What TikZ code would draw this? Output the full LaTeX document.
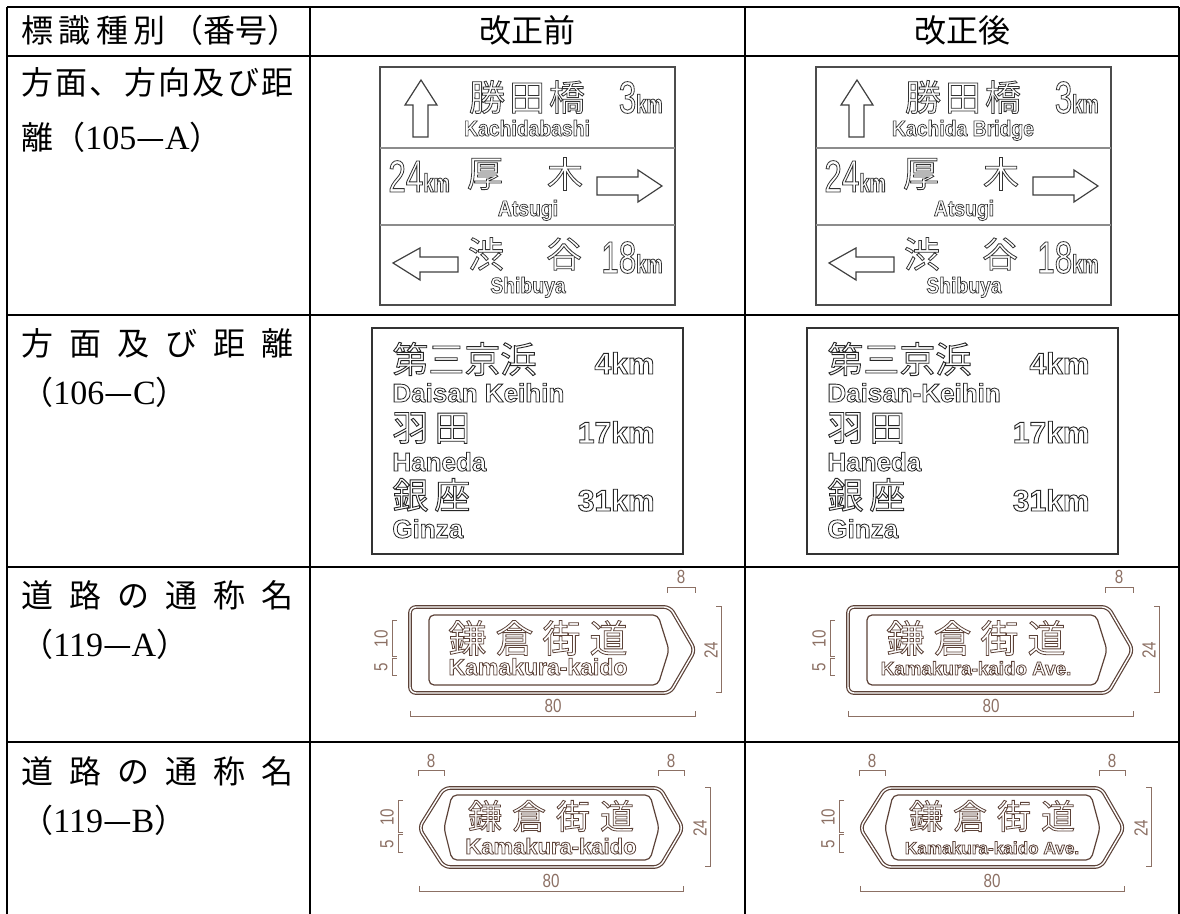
\documentclass[tikz,border=0pt]{standalone}
\usepackage{fontspec}
\setmainfont{Liberation Serif}
\newfontfamily\jp{Noto Sans CJK JP}
\newfontfamily\romfont{Liberation Sans}
\newfontfamily\romnar[FakeStretch=0.88]{Liberation Sans}
\newfontfamily\numfont[FakeStretch=0.7]{Liberation Sans}
\newfontfamily\dimfont[FakeStretch=0.8]{Liberation Sans}

\definecolor{roadbrown}{RGB}{92,66,56}
\definecolor{dimbrown}{RGB}{140,112,100}

\newcommand\hollow[2][0.4]{\special{pdf:literal direct 1 Tr #1 w}#2\special{pdf:literal direct 0 Tr}}
\newcommand\latn[1]{{\rmfamily\fontsize{17pt}{17pt}\selectfont #1}}
\newcommand\smallkm{{\bfseries\fontsize{13pt}{13pt}\selectfont km}}

\newcommand\dirsign[3]{%
    \begin{scope}[shift={#2}]
        \draw[signframe] (0,0) rectangle (295,238);
        \draw[signrule] (0,81) -- (295,81);
        \draw[signrule] (0,158) -- (295,158);
        \draw[arrowline] (41,13) -- (57,38) -- (48,38) -- (48,70) -- (33,70) -- (33,38) -- (25,38) -- cycle;
        \draw[arrowline] (282,119) -- (258,135) -- (258,128) -- (217,128) -- (217,110) -- (258,110) -- (258,103) -- cycle;
        \draw[arrowline] (13,196) -- (40,181) -- (40,190) -- (78,190) -- (78,205) -- (40,205) -- (40,213) -- cycle;
        \node[kanji] (#1-kachi) at (147,30) {\hollow{勝\kern2pt 田\kern2pt 橋}};
        \node[numtxt, anchor=base east] (#1-d3) at (283,46) {\hollow{3\smallkm}};
        \node[roma] (#1-kachien) at (147,69) {\hollow[0.35]{#3}};
        \node[numtxt, anchor=base west] (#1-d24) at (8,125) {\hollow{24\smallkm}};
        \node[kanji] (#1-atsu) at (105,107) {\hollow{厚}};
        \node[kanji] (#1-gi) at (185,107) {\hollow{木}};
        \node[roma] (#1-atsuen) at (148,149) {\hollow[0.35]{Atsugi}};
        \node[kanji] (#1-shibu) at (106,187) {\hollow{渋}};
        \node[kanji] (#1-ya) at (184,187) {\hollow{谷}};
        \node[numtxt, anchor=base east] (#1-d18) at (283,206) {\hollow{18\smallkm}};
        \node[roma] (#1-shibuen) at (148,226) {\hollow[0.35]{Shibuya}};
    \end{scope}}

\newcommand\distsign[3]{%
    \begin{scope}[shift={#2}]
        \draw[signframe2] (0,0) rectangle (311,226);
        \node[kanji2] (#1-k1) at (20,31) {\hollow[0.45]{第三京浜}};
        \node[roma2] (#1-e1) at (20,74) {\hollow{#3}};
        \node[kanji2] (#1-k2) at (20,100) {\hollow[0.45]{羽\kern3pt 田}};
        \node[roma2] (#1-e2) at (20,143) {\hollow{Haneda}};
        \node[kanji2] (#1-k3) at (20,167) {\hollow[0.45]{銀\kern3pt 座}};
        \node[roma2] (#1-e3) at (20,210) {\hollow{Ginza}};
        \node[kmtxt] (#1-m1) at (283,46) {\hollow[0.45]{4km}};
        \node[kmtxt] (#1-m2) at (283,115) {\hollow[0.45]{17km}};
        \node[kmtxt] (#1-m3) at (283,183) {\hollow[0.45]{31km}};
    \end{scope}}

\newcommand\roadA[4]{%
    \begin{scope}[shift={#2}]
        \draw[roadout] (0,0) -- (260,0) -- (285,43) -- (260,86) -- (0,86) -- cycle;
        \draw[roadin] (19,8) -- (248,8) -- (259,43) -- (248,78) -- (19,78) -- cycle;
        \node[roadkanji] (#1-name) at (128,31) {\hollow{鎌\kern4.5pt 倉\kern4.5pt 街\kern4.5pt 道}};
        \node[roadroma] (#1-roma) at (128,68) {\hollow[0.4]{\fontsize{#3}{#3}\selectfont #4}};
        \draw[dimline] (257,-14) -- (257,-19) -- (285,-19) -- (285,-14);
        \node[dimtxt] (#1-w8) at (271,-30) {8};
        \draw[dimline] (306,0) -- (311,0) -- (311,86) -- (306,86);
        \node[dimtxt, rotate=90] (#1-h24) at (301,43) {24};
        \draw[dimline] (-13,14) -- (-18,14) -- (-18,50) -- (-13,50);
        \draw[dimline] (-13,52) -- (-18,52) -- (-18,69) -- (-13,69);
        \node[dimtxt, rotate=90] (#1-h10) at (-29,32) {10};
        \node[dimtxt, rotate=90] (#1-h5) at (-29,60) {5};
        \draw[dimline] (0,104) -- (0,110) -- (285,110) -- (285,104);
        \node[dimtxt] (#1-w80) at (143,99) {80};
    \end{scope}}

\newcommand\roadB[4]{%
    \begin{scope}[shift={#2}]
        \draw[roadout] (0,40) -- (25,0) -- (241,0) -- (264,40) -- (241,79) -- (25,79) -- cycle;
        \draw[roadin] (25,40) -- (33,7) -- (231,7) -- (240,40) -- (231,72) -- (33,72) -- cycle;
        \node[roadkanji, font=\jp\fontsize{17pt}{17pt}\selectfont] (#1-name) at (132,28) {\hollow{鎌\kern5pt 倉\kern5pt 街\kern5pt 道}};
        \node[roadroma] (#1-roma) at (132,66) {\hollow[0.4]{\fontsize{#3}{#3}\selectfont #4}};
        \draw[dimline] (-1,-12) -- (-1,-17) -- (25,-17) -- (25,-12);
        \node[dimtxt] (#1-l8) at (12,-27) {8};
        \draw[dimline] (239,-12) -- (239,-17) -- (265,-17) -- (265,-12);
        \node[dimtxt] (#1-r8) at (252,-27) {8};
        \draw[dimline] (286,0) -- (291,0) -- (291,79) -- (286,79);
        \node[dimtxt, rotate=90] (#1-h24) at (281,40) {24};
        \draw[dimline] (-16,13) -- (-21,13) -- (-21,45) -- (-16,45);
        \draw[dimline] (-16,47) -- (-21,47) -- (-21,65) -- (-16,65);
        \node[dimtxt, rotate=90] (#1-h10) at (-32,29) {10};
        \node[dimtxt, rotate=90] (#1-h5) at (-32,56) {5};
        \draw[dimline] (0,98) -- (0,104) -- (264,104) -- (264,98);
        \node[dimtxt] (#1-w80) at (132,93) {80};
    \end{scope}}

\begin{document}
\begin{tikzpicture}[x=0.5pt, y=-0.5pt,
    tabline/.style={line width=1.1pt},
    hdr/.style={inner sep=0pt, font=\jp\fontsize{16pt}{16pt}\selectfont},
    lbl/.style={hdr, anchor=west},
    signframe/.style={draw=black!70, fill=white, line width=0.9pt},
    signframe2/.style={draw=black!80, fill=white, line width=0.8pt},
    signrule/.style={black!45, line width=0.8pt},
    arrowline/.style={draw=black!75, fill=white, line width=0.6pt},
    kanji/.style={inner sep=0pt, text=black!80, font=\jp\fontsize{18pt}{18pt}\selectfont},
    numtxt/.style={inner sep=0pt, text=black!80, font=\numfont\fontsize{22.5pt}{22.5pt}\selectfont},
    roma/.style={inner sep=0pt, anchor=base, text=black!80, font=\romnar\bfseries\fontsize{11pt}{11pt}\selectfont},
    kanji2/.style={inner sep=0pt, anchor=west, text=black!85, font=\jp\fontsize{18pt}{18pt}\selectfont},
    roma2/.style={inner sep=0pt, anchor=base west, text=black!85, font=\romfont\bfseries\fontsize{13pt}{13pt}\selectfont},
    kmtxt/.style={inner sep=0pt, anchor=base east, text=black!85, font=\romfont\bfseries\fontsize{15pt}{15pt}\selectfont},
    roadout/.style={draw=roadbrown, double=white, double distance=0.7pt, line width=0.6pt, rounded corners=3pt},
    roadin/.style={draw=roadbrown, line width=0.6pt, rounded corners=2.5pt},
    roadkanji/.style={inner sep=0pt, text=roadbrown, font=\jp\fontsize{19pt}{19pt}\selectfont},
    roadroma/.style={inner sep=0pt, anchor=base, text=roadbrown, font=\romfont\bfseries},
    dimline/.style={dimbrown, line width=0.5pt},
    dimtxt/.style={inner sep=0pt, text=dimbrown, font=\dimfont\fontsize{9.5pt}{9.5pt}\selectfont}]

    \useasboundingbox (0,0) rectangle (1180,914);

    % table
    \draw[tabline] (7,7) -- (1179,7);
    \draw[tabline] (7,56) -- (1179,56);
    \draw[tabline] (7,315) -- (1179,315);
    \draw[tabline] (7,567) -- (1179,567);
    \draw[tabline] (7,742) -- (1179,742);
    \draw[tabline] (7,7) -- (7,914);
    \draw[tabline] (310,7) -- (310,914);
    \draw[tabline] (745,7) -- (745,914);
    \draw[tabline] (1179,7) -- (1179,914);

    % header
    \node[lbl] (hkind) at (21,30) {\makebox[139pt][l]{標\hfill 識\hfill 種\hfill 別\hfill （番号）}};
    \node[hdr] (hbefore) at (527,30) {改正前};
    \node[hdr] (hafter) at (962,30) {改正後};

    % first column
    \node[lbl] (r1a) at (21,82) {\makebox[136pt][l]{方\hfill 面\hfill 、\hfill 方\hfill 向\hfill 及\hfill び\hfill 距}};
    \node[lbl] (r1b) at (21,137) {離（\latn{105}—\latn{A}）};
    \node[lbl] (r2a) at (21,343) {\makebox[136pt][l]{方\hfill 面\hfill 及\hfill び\hfill 距\hfill 離}};
    \node[lbl] (r2b) at (21,392) {（\latn{106}—\latn{C}）};
    \node[lbl] (r3a) at (21,595) {\makebox[136pt][l]{道\hfill 路\hfill の\hfill 通\hfill 称\hfill 名}};
    \node[lbl] (r3b) at (21,644) {（\latn{119}—\latn{A}）};
    \node[lbl] (r4a) at (21,771) {\makebox[136pt][l]{道\hfill 路\hfill の\hfill 通\hfill 称\hfill 名}};
    \node[lbl] (r4b) at (21,820) {（\latn{119}—\latn{B}）};

    % signs
    \dirsign{oldA}{(380,67)}{Kachidabashi}
    \dirsign{newA}{(816,67)}{Kachida Bridge}
    \distsign{oldC}{(372,328)}{Daisan Keihin}
    \distsign{newC}{(807,328)}{Daisan-Keihin}
    \roadA{oldRA}{(410,607)}{11.5pt}{Kamakura-kaido}
    \roadA{newRA}{(848,607)}{9.4pt}{Kamakura-kaido Ave.}
    \roadB{oldRB}{(419,788)}{11pt}{Kamakura-kaido}
    \roadB{newRB}{(860,788)}{8.6pt}{Kamakura-kaido Ave.}
\end{tikzpicture}
\end{document}
